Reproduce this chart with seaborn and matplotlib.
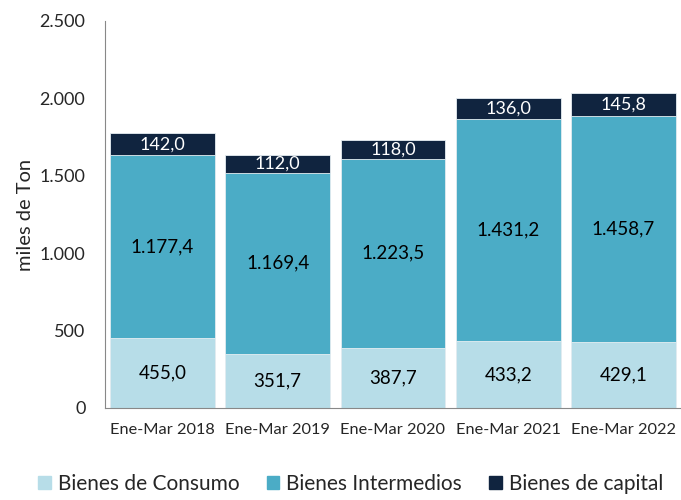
import matplotlib
matplotlib.use('Agg')
import matplotlib.pyplot as plt
import matplotlib.ticker as mticker
from matplotlib.patches import Patch
import seaborn as sns

periods = ['Ene-Mar 2018', 'Ene-Mar 2019', 'Ene-Mar 2020', 'Ene-Mar 2021', 'Ene-Mar 2022']
consumo = [455.0, 351.7, 387.7, 433.2, 429.1]
intermedios = [1177.4, 1169.4, 1223.5, 1431.2, 1458.7]
capital = [142.0, 112.0, 118.0, 136.0, 145.8]

c_cons = '#b7dde8'
c_int = '#4bacc6'
c_cap = '#10243f'


def fmt_es(v, dec=1):
    s = f'{v:,.{dec}f}'
    return s.replace(',', 'X').replace('.', ',').replace('X', '.')


sns.set_style('white')
plt.rcParams['font.family'] = ['Lato', 'DejaVu Sans']

fig = plt.figure(figsize=(6.81, 5), dpi=100)
ax = fig.add_axes([0.154, 0.184, 0.846, 0.774])

tot_mid = [a + b for a, b in zip(consumo, intermedios)]
tot_all = [a + b for a, b in zip(tot_mid, capital)]

# overlay cumulative bars, tallest first
for vals, col in [(tot_all, c_cap), (tot_mid, c_int), (consumo, c_cons)]:
    sns.barplot(x=periods, y=vals, color=col, width=0.91, saturation=1,
                edgecolor='#e6eef2', linewidth=0.6, ax=ax)

for i in range(len(periods)):
    ax.text(i, consumo[i] / 2, fmt_es(consumo[i]), ha='center', va='center',
            fontsize=13.5, color='black')
    ax.text(i, consumo[i] + intermedios[i] / 2, fmt_es(intermedios[i]),
            ha='center', va='center', fontsize=13.5, color='black')
    ax.text(i, tot_mid[i] + capital[i] / 2, fmt_es(capital[i]), ha='center',
            va='center', fontsize=13, color='white')

ax.set_ylim(0, 2500)
ax.set_xlim(-0.5, len(periods) - 0.5)
ax.yaxis.set_major_locator(mticker.MultipleLocator(500))
ax.yaxis.set_major_formatter(mticker.FuncFormatter(lambda v, p: fmt_es(v, 0)))
ax.set_ylabel('miles de Ton', fontsize=14.5, labelpad=4)
ax.set_xlabel('')

ax.set_xticks(range(len(periods)))
ax.set_xticklabels(periods, fontsize=11.8)
ax.set_xticks([i - 0.5 for i in range(len(periods) + 1)], minor=True)
ax.tick_params(axis='x', which='major', length=0, pad=11)
ax.tick_params(axis='x', which='minor', length=6, color='#888888', direction='out')
ax.tick_params(axis='y', length=6, color='#888888', direction='out', labelsize=13, pad=8)

sns.despine(ax=ax)
for s in ['left', 'bottom']:
    ax.spines[s].set_color('#888888')
    ax.spines[s].set_linewidth(0.8)

handles = [Patch(color=c_cons, label='Bienes de Consumo'),
           Patch(color=c_int, label='Bienes Intermedios'),
           Patch(color=c_cap, label='Bienes de capital')]
fig.legend(handles=handles, loc='lower center', bbox_to_anchor=(0.515, -0.025), ncol=3,
           frameon=False, fontsize=15, handlelength=0.6, handleheight=0.6,
           handletextpad=0.35, columnspacing=1.3)

fig.savefig('out.png', dpi=100)
